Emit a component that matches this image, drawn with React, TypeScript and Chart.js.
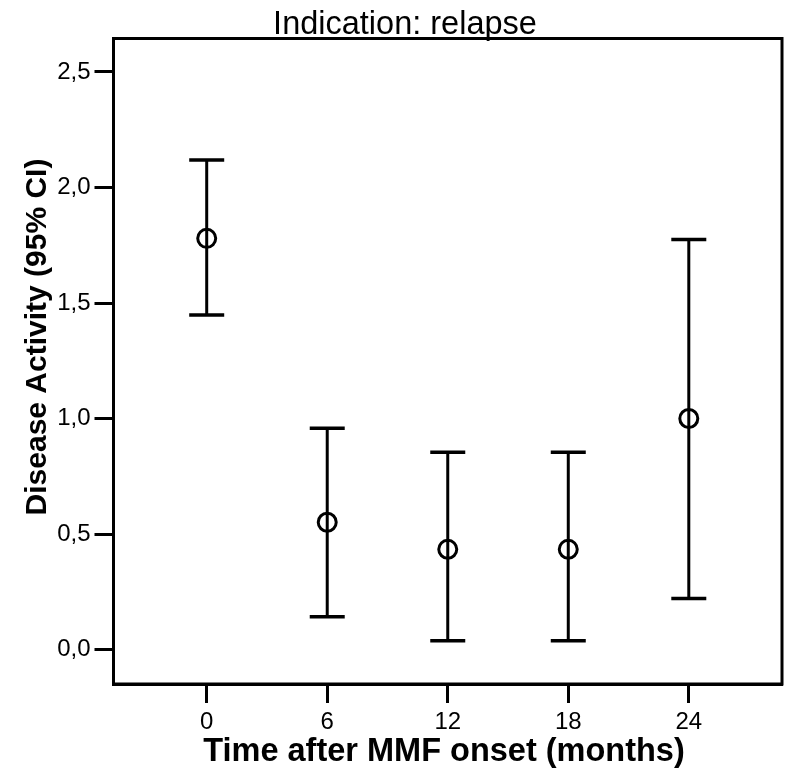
import React, { useEffect, useRef } from "react";
import { Chart, registerables } from "chart.js";

Chart.register(...registerables);

const months = [0, 6, 12, 18, 24];
const meanValues = [1.78, 0.551, 0.434, 0.434, 1.0];
const upperCI = [2.119, 0.958, 0.854, 0.854, 1.775];
const lowerCI = [1.448, 0.142, 0.038, 0.038, 0.221];
const yTickValues = [0, 0.5, 1.0, 1.5, 2.0, 2.5];
const titleText = "Indication: relapse";
const xTitleText = "Time after MMF onset (months)";
const yTitleText = "Disease Activity (95% CI)";

const FONT = '"Liberation Sans", Arial, sans-serif';

export default function App() {
  const ref = useRef<HTMLCanvasElement | null>(null);

  useEffect(() => {
    const canvas = ref.current;
    if (!canvas) return;

    const decorPlugin = {
      id: "decor",
      beforeDatasetsDraw(chart: any) {
        const { ctx, scales } = chart;
        const xs = scales.x;
        const ys = scales.y;
        ctx.save();
        ctx.strokeStyle = "#000";
        for (let i = 0; i < months.length; i++) {
          const x = xs.getPixelForValue(months[i]);
          const yh = ys.getPixelForValue(upperCI[i]);
          const yl = ys.getPixelForValue(lowerCI[i]);
          ctx.lineWidth = 3;
          ctx.beginPath();
          ctx.moveTo(x, yh);
          ctx.lineTo(x, yl);
          ctx.stroke();
          ctx.lineWidth = 3.5;
          ctx.beginPath();
          ctx.moveTo(x - 17.5, yh);
          ctx.lineTo(x + 17.5, yh);
          ctx.moveTo(x - 17.5, yl);
          ctx.lineTo(x + 17.5, yl);
          ctx.stroke();
        }
        ctx.restore();
      },
      afterDraw(chart: any) {
        const { ctx, chartArea } = chart;
        ctx.save();
        ctx.strokeStyle = "#000";
        ctx.lineWidth = 3;
        ctx.strokeRect(
          chartArea.left,
          chartArea.top,
          chartArea.right - chartArea.left,
          chartArea.bottom - chartArea.top
        );
        ctx.fillStyle = "#000";
        ctx.font = `32.5px ${FONT}`;
        ctx.textAlign = "center";
        ctx.textBaseline = "alphabetic";
        ctx.fillText(titleText, 405, 34);
        ctx.font = `bold 32.5px ${FONT}`;
        ctx.fillText(xTitleText, 444, 761);
        ctx.translate(46, 337);
        ctx.rotate(-Math.PI / 2);
        ctx.font = `bold 30px ${FONT}`;
        ctx.fillText(yTitleText, 0, 0);
        ctx.restore();
      },
    };

    const chart = new Chart(canvas, {
      type: "scatter",
      data: {
        datasets: [
          {
            data: months.map((m, i) => ({ x: m, y: meanValues[i] })),
            pointStyle: "circle",
            pointRadius: 9,
            pointBorderWidth: 3,
            pointBackgroundColor: "rgba(0,0,0,0)",
            pointBorderColor: "#000",
            showLine: false,
          },
        ],
      },
      options: {
        animation: false,
        responsive: false,
        maintainAspectRatio: false,
        layout: { padding: { top: 38.5, right: 2.3, left: 0, bottom: 0 } },
        plugins: {
          legend: { display: false },
          title: { display: false },
          tooltip: { enabled: false },
        },
        scales: {
          x: {
            type: "linear",
            min: -4.64,
            max: 28.64,
            afterBuildTicks(scale: any) {
              scale.ticks = months.map((v) => ({ value: v }));
            },
            afterFit(scale: any) {
              scale.height = 87;
            },
            ticks: {
              color: "#000",
              font: { family: FONT, size: 24 },
              padding: 5,
              maxRotation: 0,
              autoSkip: false,
              callback: (v: any) => String(v),
            },
            grid: {
              drawOnChartArea: false,
              drawTicks: true,
              tickLength: 19,
              tickWidth: 3,
              tickColor: "#000",
            },
            border: { display: true, color: "#000", width: 3 },
          },
          y: {
            type: "linear",
            min: -0.149,
            max: 2.645,
            afterBuildTicks(scale: any) {
              scale.ticks = yTickValues.map((v) => ({ value: v }));
            },
            afterFit(scale: any) {
              scale.width = 113.5;
            },
            ticks: {
              color: "#000",
              font: { family: FONT, size: 24 },
              padding: 4,
              autoSkip: false,
              callback: (v: any) => Number(v).toFixed(1).replace(".", ","),
            },
            grid: {
              drawOnChartArea: false,
              drawTicks: true,
              tickLength: 19,
              tickWidth: 3,
              tickColor: "#000",
            },
            border: { display: true, color: "#000", width: 3 },
          },
        },
      },
      plugins: [decorPlugin],
    });

    return () => chart.destroy();
  }, []);

  return (
    <div
      style={{
        position: "absolute",
        left: 0,
        top: 0,
        width: 794,
        height: 771,
        background: "#fff",
      }}
    >
      <canvas ref={ref} width={794} height={771} style={{ width: 794, height: 771, display: "block" }} />
    </div>
  );
}
